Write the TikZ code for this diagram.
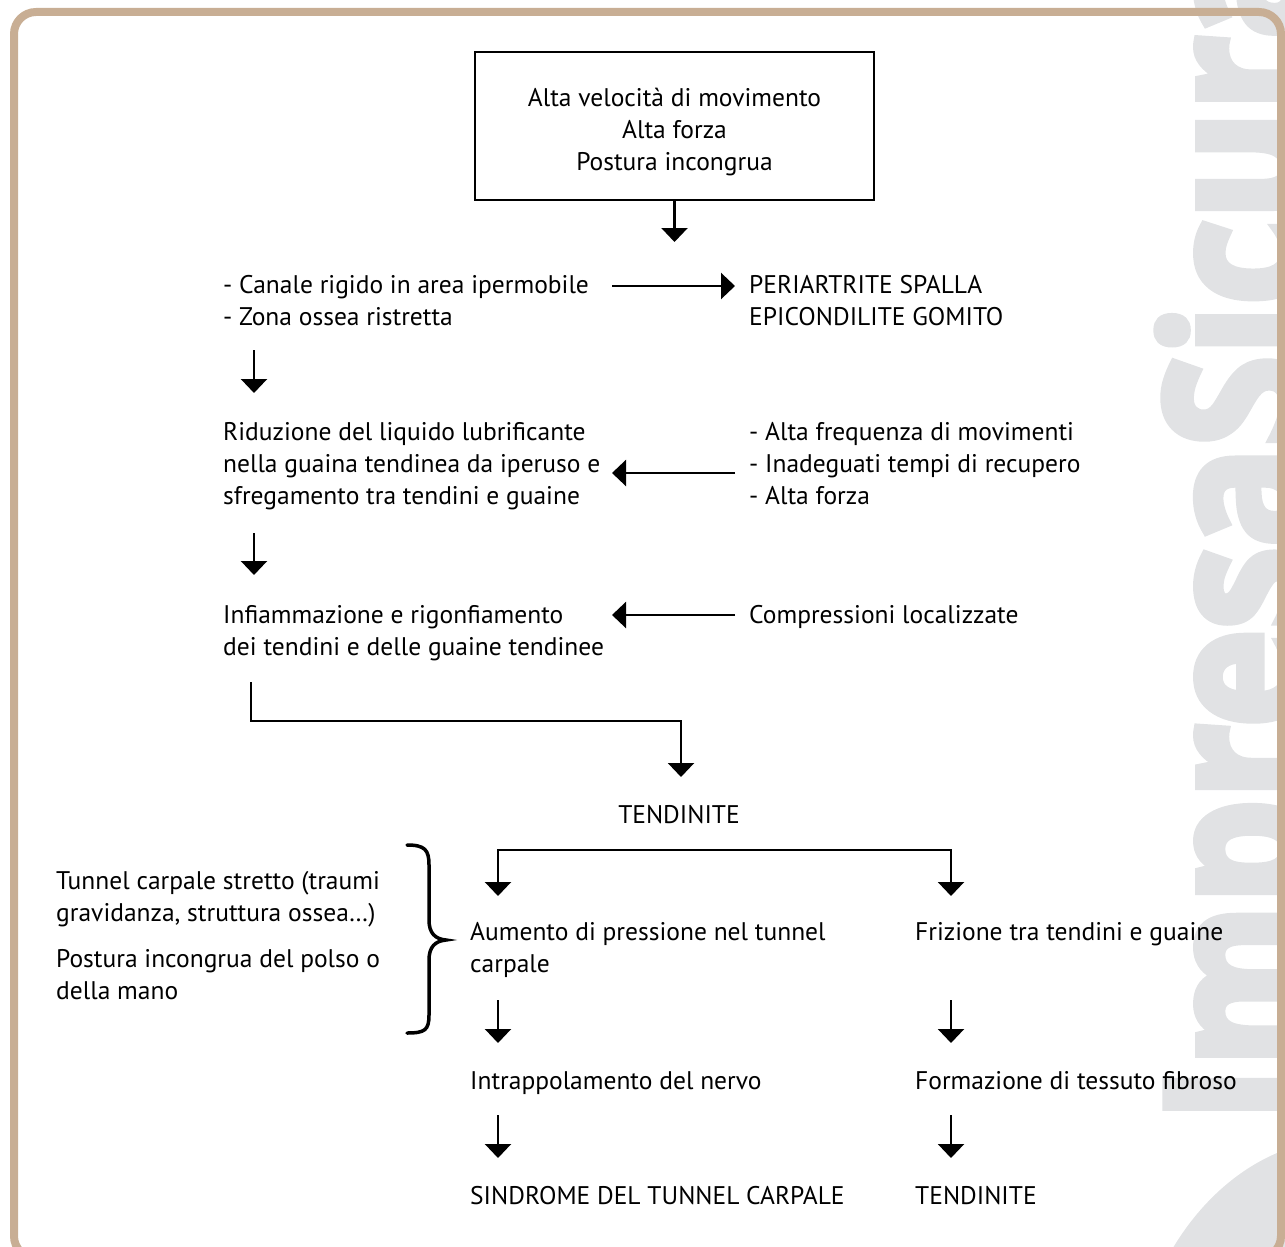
\documentclass[tikz,border=0pt]{standalone}
\usepackage{fontspec}
\setmainfont{PT Sans}
\newfontfamily\wmfont{Open Sans}
\usetikzlibrary{arrows.meta}
\definecolor{bordertan}{RGB}{200,174,148}
\definecolor{wmgray}{RGB}{225,226,228}
\begin{document}
\begin{tikzpicture}[x=1pt,y=1pt,
  txt/.style={anchor=base west, inner sep=0pt, align=left, font=\fontsize{25.5}{32}\selectfont},
  arr/.style={line width=2.3pt, -{Triangle[width=26pt,length=14pt]}}]
\useasboundingbox (0,0) rectangle (1285,-1247);
\begin{scope}
\clip (0,0) rectangle (1285,-1247);
\node[rotate=90, anchor=base west, inner sep=0pt, text=wmgray, font=\wmfont\bfseries\fontsize{195}{195}\selectfont] (wm) at (1306,-1122) {\scalebox{0.85}[1]{\special{pdf:literal direct 2 Tr 9 w}ImpresaSicura\special{pdf:literal direct 0 Tr 1 w}}};
\fill[wmgray] (1290,-1148) .. controls (1240,-1165) and (1195,-1205) .. (1165,-1262) -- (1290,-1262) -- cycle;
\draw[bordertan, line width=8pt, rounded corners=22pt] (14,-12) rectangle (1281,-1258);
\end{scope}

\node[draw, line width=2.5pt, minimum width=399pt, minimum height=148pt, inner sep=0pt, align=center, font=\fontsize{25.5}{32}\selectfont] (box) at (674.5,-126) {\rule{0pt}{30pt}Alta velocità di movimento\\Alta forza\\Postura incongrua};

\node[txt] (r2a) at (223,-325) {- Canale rigido in area ipermobile\\- Zona ossea ristretta};
\node[txt] (r2b) at (749,-325) {PERIARTRITE SPALLA\\EPICONDILITE GOMITO};
\node[txt] (r3a) at (223,-504) {Riduzione del liquido lubrificante\\nella guaina tendinea da iperuso e\\sfregamento tra tendini e guaine};
\node[txt] (r3b) at (749,-504) {- Alta frequenza di movimenti\\- Inadeguati tempi di recupero\\- Alta forza};
\node[txt] (r4a) at (223,-655) {Infiammazione e rigonfiamento\\dei tendini e delle guaine tendinee};
\node[txt] (r4b) at (749,-623) {Compressioni localizzate};
\node[txt, anchor=base] (tend) at (679,-823) {TENDINITE};
\node[txt] (lt1) at (56,-921) {Tunnel carpale stretto (traumi\\gravidanza, struttura ossea…)};
\node[txt] (lt2) at (56,-999) {Postura incongrua del polso o\\della mano};
\node[txt] (c1) at (470,-972) {Aumento di pressione nel tunnel\\carpale};
\node[txt] (c2) at (915,-940) {Frizione tra tendini e guaine};
\node[txt] (d1) at (470,-1089) {Intrappolamento del nervo};
\node[txt] (d2) at (915,-1089) {Formazione di tessuto fibroso};
\node[txt] (e1) at (470,-1204) {SINDROME DEL TUNNEL CARPALE};
\node[txt] (e2) at (915,-1204) {TENDINITE};

\coordinate (a1e) at (674.5,-242);
\coordinate (a2s) at (612,-286); \coordinate (a2e) at (735,-286);
\coordinate (a3s) at (254,-350); \coordinate (a3e) at (254,-393);
\coordinate (a4s) at (735,-473); \coordinate (a4e) at (612,-473);
\coordinate (a5s) at (254,-533); \coordinate (a5e) at (254,-575);
\coordinate (a6s) at (735,-615); \coordinate (a6e) at (612,-615);
\coordinate (el1) at (251,-682); \coordinate (el2) at (681,-777);
\coordinate (fk) at (725,-850);
\coordinate (fl) at (498,-896); \coordinate (fr) at (951,-896);
\coordinate (b1s) at (498,-1000); \coordinate (b1e) at (498,-1043);
\coordinate (b2s) at (951,-1000); \coordinate (b2e) at (951,-1043);
\coordinate (g1s) at (498,-1115); \coordinate (g1e) at (498,-1158);
\coordinate (g2s) at (951,-1115); \coordinate (g2e) at (951,-1158);

\draw[arr] (box.south) -- (a1e);
\draw[arr] (a2s) -- (a2e);
\draw[arr] (a3s) -- (a3e);
\draw[arr] (a4s) -- (a4e);
\draw[arr] (a5s) -- (a5e);
\draw[arr] (a6s) -- (a6e);
\draw[arr] (el1) |- (681,-721) -- (el2);
\draw[arr] (fk) -| (fl);
\draw[arr] (fk) -| (fr);
\draw[arr] (b1s) -- (b1e);
\draw[arr] (b2s) -- (b2e);
\draw[arr] (g1s) -- (g1e);
\draw[arr] (g2s) -- (g2e);

\draw[line width=3.5pt, line cap=round] (407,-845) .. controls (425,-845) and (429,-850) .. (429,-865) -- (429,-920) .. controls (429,-933) and (435,-939) .. (446,-940) .. controls (435,-941) and (429,-947) .. (429,-960) -- (429,-1015) .. controls (429,-1030) and (425,-1033) .. (407,-1033);
\end{tikzpicture}
\end{document}
